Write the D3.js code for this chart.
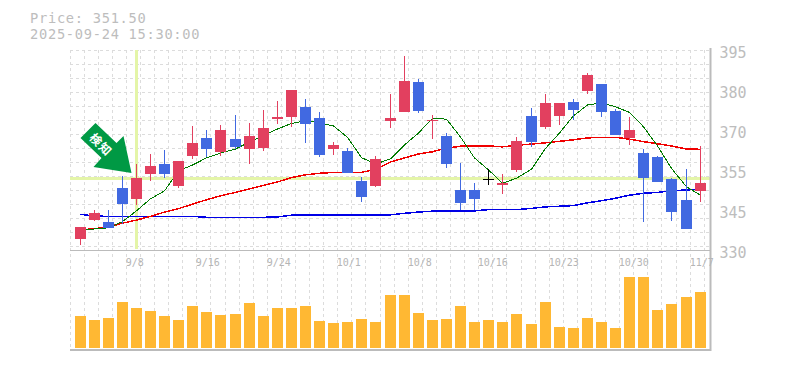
<!DOCTYPE html>
<html>
<head>
<meta charset="utf-8">
<script src="https://cdnjs.cloudflare.com/ajax/libs/d3/7.8.5/d3.min.js"></script>
<style>
    html, body { margin: 0; padding: 0; background: #fff; overflow: hidden; }
</style>
</head>
<body>
<script>
// values
const infoLines = ["Price: 351.50", "2025-09-24 15:30:00"];
const dates = {4: "9/8", 9: "9/16", 14: "9/24", 19: "10/1", 24: "10/8", 29: "10/16", 34: "10/23", 39: "10/30", 44: "11/7"};
const priceTicks = [330, 343, 356, 369, 382, 395];
const signalIndex = 4;
const signalLabel = "検知";

const opens = [334.6,340.7,340.1,351.1,347.6,355.7,358.9,351.8,361.5,367.4,362.8,367.1,363.8,364.1,373.6,374.2,377.5,373.9,363.8,363.2,353.4,351.8,372.9,375.8,385.6,372.9,368.0,350.5,350.5,354.1,352.1,357.0,374.5,371.0,374.5,379.1,382.7,384.9,376.2,367.4,362.5,361.2,354.1,347.2,350.2];
const highs = [338.5,344.0,344.0,355.0,358.9,362.2,363.5,359.9,371.3,370.0,371.6,374.9,372.3,376.5,379.4,383.0,380.1,375.8,366.1,364.1,354.7,361.5,381.7,394.0,386.6,374.9,369.0,359.2,352.8,357.3,355.7,367.7,377.1,381.7,378.8,380.1,388.5,384.9,376.8,374.2,363.8,361.5,354.4,357.3,364.8];
const lows = [332.6,340.4,338.1,339.4,345.6,353.4,354.4,351.1,360.6,361.2,361.5,363.8,358.9,363.2,371.9,371.0,365.8,361.2,361.9,356.0,346.6,351.5,370.6,375.8,375.5,367.1,357.6,344.0,344.0,352.1,349.2,356.3,364.5,370.3,371.6,373.2,381.7,374.2,368.4,365.1,340.1,353.1,340.4,337.8,346.6];
const closes = [338.5,343.0,338.1,345.9,354.4,358.3,355.7,359.9,365.8,363.8,370.0,364.5,368.0,370.6,374.2,383.0,371.9,361.9,365.1,356.0,348.2,360.6,373.9,385.9,376.2,373.2,358.9,346.2,347.6,354.1,352.8,366.4,366.1,378.8,378.8,376.5,387.9,375.8,368.4,370.0,354.4,353.1,343.3,337.8,352.8];
const shortAvg = [337.6,337.8,338.2,340.2,343.7,347.6,350.2,356.7,358.6,360.9,362.5,363.8,366.1,368.1,370.3,372.1,373.0,372.3,371.3,367.6,361.0,358.9,360.6,365.1,369.0,373.8,373.5,367.7,360.9,357.0,352.7,354.3,357.2,364.0,369.0,374.6,378.1,378.8,377.5,375.7,371.0,364.8,357.5,351.5,348.8];
const midAvg = [337.5,337.9,338.5,339.7,340.7,341.9,343.3,344.4,345.9,347.3,348.6,349.7,350.8,352.0,353.1,354.5,355.4,355.9,356.2,356.2,356.2,357.2,359.6,360.9,362.2,362.9,364.1,364.7,364.8,364.8,364.5,365.0,365.4,365.8,366.3,366.8,367.4,367.6,367.6,367.0,366.2,365.5,364.8,363.8,363.7];
const longAvg = [342.6,342.0,341.9,341.9,341.9,341.9,341.9,341.9,341.9,341.6,341.6,341.6,341.6,341.6,341.7,342.3,342.4,342.4,342.4,342.4,342.3,342.3,342.4,342.9,343.3,343.6,343.6,343.7,343.7,344.1,344.1,344.1,344.5,345.0,345.2,345.4,346.3,347.0,347.8,348.8,349.4,349.7,350.2,350.5,350.7];
const volumes = [32,28,30,46,40,37,32,28,42,36,33,34,45,32,40,40,42,27,25,26,29,26,53,53,35,28,29,42,26,28,26,34,24,46,21,20,30,26,20,71,71,38,44,51,56].map(d => d * 1000);

const svg = d3.select("body").append("svg")
    .attr("width", 785)
    .attr("height", 370)
    .style("display", "block");

const plotLeft = 70, plotRight = 710, plotTop = 50, priceBottom = 250, volBottom = 350;

const xRaw = d3.scaleLinear().domain([0, 44]).range([80, 700.18]);
const xScale = i => Math.floor(xRaw(i)) + 0.5;
const yScale = d3.scaleLinear().domain([330, 395]).range([253, 53]);
const volScale = d3.scaleLinear().domain([0, 71000]).range([348, 277]);
const rowY = p => Math.round(yScale(p));

const grid = svg.append("g")
    .attr("stroke", "#dcdcdc")
    .attr("stroke-dasharray", "3,3");

d3.range(0, 46).forEach(i => {
    grid.append("line")
        .attr("x1", xScale(i) - 10)
        .attr("x2", xScale(i) - 10)
        .attr("y1", plotTop)
        .attr("y2", volBottom);
});

d3.range(0, 15).forEach(k => {
    grid.append("line")
        .attr("x1", plotLeft)
        .attr("x2", plotRight)
        .attr("y1", plotTop + k * 14 + 0.5)
        .attr("y2", plotTop + k * 14 + 0.5);
});

// highlight cross on the signal candle
svg.append("rect")
    .attr("x", xScale(signalIndex) - 1.5)
    .attr("y", plotTop)
    .attr("width", 3)
    .attr("height", 199)
    .attr("fill", "#e4f5a8");

svg.append("rect")
    .attr("x", plotLeft)
    .attr("y", rowY(closes[signalIndex]) - 1)
    .attr("width", plotRight - plotLeft)
    .attr("height", 3)
    .attr("fill", "#e4f5a8");

// axes frame
const frame = svg.append("g").attr("stroke", "#bbb").attr("fill", "none");
frame.append("line").attr("x1", plotLeft).attr("x2", plotRight).attr("y1", priceBottom + 0.5).attr("y2", priceBottom + 0.5);
frame.append("line").attr("x1", plotLeft).attr("x2", plotRight + 1).attr("y1", volBottom).attr("y2", volBottom).attr("stroke-width", 2);
frame.append("line").attr("x1", plotRight + 0.5).attr("x2", plotRight + 0.5).attr("y1", plotTop - 2).attr("y2", volBottom + 1).attr("stroke-width", 2);

// volume bars
svg.append("g").selectAll("rect")
    .data(volumes)
    .enter()
    .append("rect")
    .attr("x", (d, i) => xScale(i) - 5.5)
    .attr("y", d => volScale(d))
    .attr("width", 11)
    .attr("height", d => 348 - volScale(d))
    .attr("fill", "#ffb833");

// moving averages sit behind the candles
const line = d3.line()
    .x((d, i) => xScale(i))
    .y(d => yScale(d));

[[longAvg, "#0000e6", 1.5], [midAvg, "#f00000", 1.5], [shortAvg, "#007a00", 1]].forEach(s => {
    svg.append("path")
        .datum(s[0])
        .attr("d", line)
        .attr("fill", "none")
        .attr("stroke", s[1])
        .attr("stroke-width", s[2])
        .attr("shape-rendering", "crispEdges");
});

const candleColor = i => closes[i] > opens[i] ? "#e2405f" : closes[i] < opens[i] ? "#4169e1" : "#000";

const candles = svg.append("g");
opens.forEach((o, i) => {
    const bodyTop = rowY(Math.max(o, closes[i]));
    const bodyBottom = rowY(Math.min(o, closes[i]));
    candles.append("rect")
        .attr("x", xScale(i) - 0.5)
        .attr("y", rowY(highs[i]))
        .attr("width", 1)
        .attr("height", rowY(lows[i]) - rowY(highs[i]))
        .attr("fill", candleColor(i));
    candles.append("rect")
        .attr("x", xScale(i) - 5.5)
        .attr("y", bodyTop)
        .attr("width", 11)
        .attr("height", Math.max(bodyBottom - bodyTop, 1))
        .attr("fill", candleColor(i));
});

// signal arrow, shape given relative to its tip
const tipX = xScale(signalIndex) - 5;
const tipY = rowY(closes[signalIndex]) - 5;
const arrow = svg.append("g").attr("transform", `translate(${tipX},${tipY})`);

arrow.append("path")
    .attr("d", "M-36,-50 L-15,-30 L-8,-37 L0,0 L-38,-6 L-30,-15 L-51,-35 Z")
    .attr("fill", "#009944");

arrow.append("text")
    .attr("transform", "translate(-31.5,-27.5) rotate(45)")
    .attr("text-anchor", "middle")
    .attr("dominant-baseline", "middle")
    .attr("font-family", "Noto Sans CJK JP")
    .attr("font-size", "12px")
    .attr("font-weight", "bold")
    .attr("letter-spacing", "1px")
    .attr("fill", "#fff")
    .text(signalLabel);

// texts
infoLines.forEach((t, i) => {
    svg.append("text")
        .attr("x", 30)
        .attr("y", 22.5 + i * 16)
        .attr("font-family", "DejaVu Sans Mono")
        .attr("font-size", "13.7px")
        .attr("letter-spacing", "0.72px")
        .attr("fill", "#bdbdbd")
        .text(t);
});

const nearestFive = d => Math.round(d / 5) * 5;

const yAxis = d3.axisRight(yScale)
    .tickValues(priceTicks)
    .tickFormat(nearestFive)
    .tickSize(0)
    .tickPadding(0);

const yG = svg.append("g")
    .attr("transform", "translate(719.5,0)")
    .call(yAxis);
yG.select(".domain").remove();
yG.selectAll("text")
    .attr("font-family", "DejaVu Sans Mono")
    .attr("font-size", "15px")
    .attr("fill", "#bdbdbd");

const dateIdx = Object.keys(dates).map(Number);
svg.append("g").selectAll("text")
    .data(dateIdx)
    .enter()
    .append("text")
    .attr("x", d => xScale(d) - 10.8)
    .attr("y", 266)
    .attr("font-family", "DejaVu Sans Mono")
    .attr("font-size", "10px")
    .attr("fill", "#b5b5b5")
    .text(d => dates[d]);
</script>
</body>
</html>
